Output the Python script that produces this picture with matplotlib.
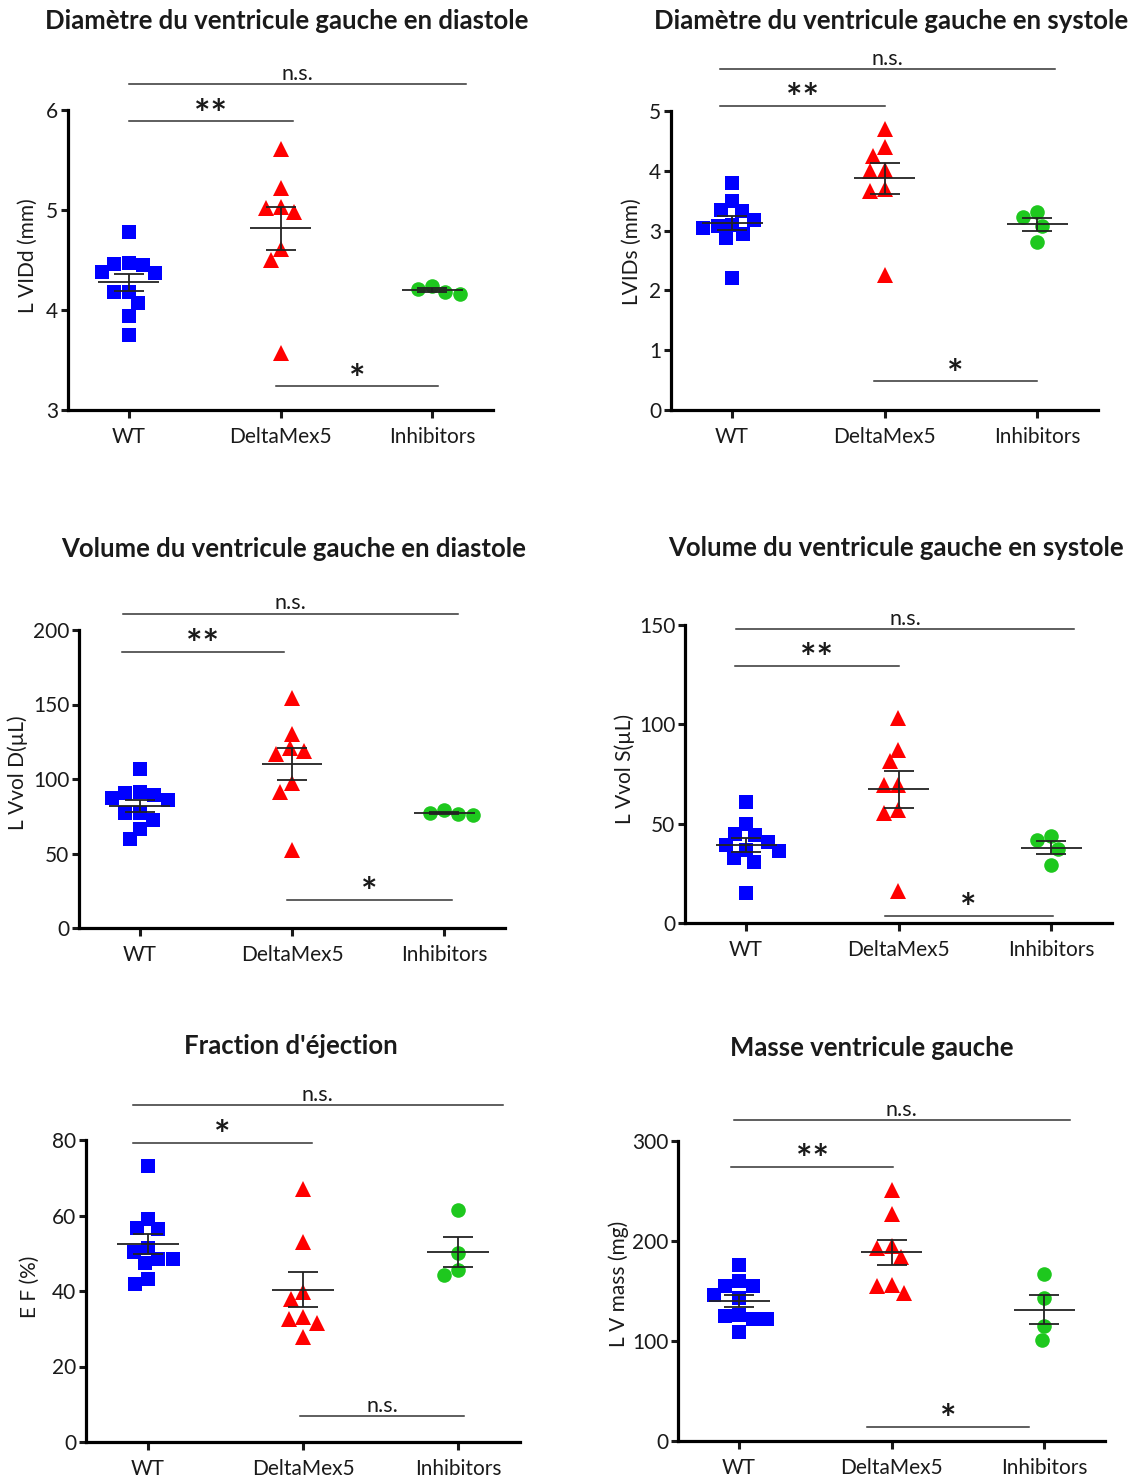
import numpy as np
import matplotlib
matplotlib.use('Agg')
import matplotlib.pyplot as plt

plt.rcParams['font.family'] = ['Lato', 'DejaVu Sans']
plt.rcParams['text.color'] = '#1a1a1a'
plt.rcParams['xtick.color'] = '#1a1a1a'
plt.rcParams['ytick.color'] = '#1a1a1a'

# ---------------- données ----------------
groups = ['WT', 'DeltaMex5', 'Inhibitors']

lvidd_wt = [4.78, 4.47, 4.46, 4.45, 4.38, 4.37, 4.18, 4.18, 4.07, 3.94, 3.75]
lvidd_dm = [5.61, 5.22, 5.03, 5.02, 4.98, 4.61, 4.50, 3.57]
lvidd_inh = [4.21, 4.16, 4.18, 4.24]

lvids_wt = [3.80, 3.50, 3.35, 3.32, 3.18, 3.10, 3.08, 3.05, 2.95, 2.88, 2.20]
lvids_dm = [4.70, 4.40, 4.25, 4.02, 4.00, 3.70, 3.66, 2.25]
lvids_inh = [3.31, 3.23, 3.08, 2.81]

volD_wt = [106.5, 91.0, 90.5, 89.5, 87.5, 86.0, 77.0, 77.0, 72.5, 66.5, 59.5]
volD_dm = [154.2, 130.3, 120.7, 119.1, 116.9, 97.2, 91.6, 52.5]
volD_inh = [77.5, 76.0, 76.6, 79.3]

volS_wt = [61.0, 50.0, 45.0, 44.3, 41.0, 39.5, 36.5, 36.0, 32.7, 30.5, 15.1]
volS_dm = [103.0, 87.1, 81.3, 69.5, 69.5, 57.0, 55.3, 15.9]
volS_inh = [43.6, 41.9, 37.2, 29.3]

ef_wt = [73.2, 59.2, 56.8, 56.5, 51.3, 50.4, 48.6, 48.6, 47.3, 43.3, 41.8]
ef_dm = [66.9, 53.0, 39.8, 37.8, 33.0, 32.7, 31.6, 27.9]
ef_inh = [61.5, 50.1, 44.2, 45.5]

mass_wt = [176, 160, 155, 155, 146, 142.7, 126, 125, 121.7, 121.7, 109.3]
mass_dm = [251, 226.7, 193.3, 195, 183.7, 156, 155, 148.3]
mass_inh = [167, 142.7, 115.3, 101]

# comparaisons : (x début, x fin, hauteur, texte)
sig_lvidd = [(0.0, 2.22, 6.26, 'n.s.'), (0.0, 1.08, 5.89, '**'), (0.97, 2.04, 3.24, '*')]
sig_lvids = [(-0.08, 2.12, 5.70, 'n.s.'), (-0.08, 1.0, 5.09, '**'), (0.93, 2.0, 0.48, '*')]
sig_volD = [(-0.11, 2.09, 211, 'n.s.'), (-0.12, 0.95, 185.4, '**'), (0.97, 2.05, 19, '*')]
sig_volS = [(-0.064, 2.15, 147.8, 'n.s.'), (-0.07, 1.0, 129.4, '**'), (0.91, 2.01, 3.7, '*')]
sig_ef = [(-0.10, 2.29, 89.3, 'n.s.'), (-0.10, 1.06, 79.3, '*'), (0.98, 2.04, 6.9, 'n.s.')]
sig_mass = [(-0.035, 2.17, 321, 'n.s.'), (-0.05, 1.01, 274.3, '**'), (0.84, 1.90, 14.3, '*')]

# ---------------- figure ----------------
W, H = 1134, 1480
fig = plt.figure(figsize=(W / 100, H / 100), dpi=100)

colors = ['#0000ff', '#ff0000', '#1ec81e']
markers = ['s', '^', 'o']
msizes = [10.0, 11.0, 10.5]

panels = [
    dict(title='Diamètre du ventricule gauche en diastole', ylabel='L VIDd (mm)',
         data=[lvidd_wt, lvidd_dm, lvidd_inh], ylim=(3, 6), yticks=[3, 4, 5, 6], sig=sig_lvidd,
         box=(68, 493, 110, 410), title_xy=(287, 21), ylab_xy=(28, 256)),
    dict(title='Diamètre du ventricule gauche en systole', ylabel='LVIDs (mm)',
         data=[lvids_wt, lvids_dm, lvids_inh], ylim=(0, 5), yticks=[0, 1, 2, 3, 4, 5], sig=sig_lvids,
         box=(671, 1098, 111, 410), title_xy=(891, 21), ylab_xy=(632, 252)),
    dict(title='Volume du ventricule gauche en diastole', ylabel='L Vvol D(µL)',
         data=[volD_wt, volD_dm, volD_inh], ylim=(0, 200), yticks=[0, 50, 100, 150, 200], sig=sig_volD,
         box=(79, 505, 630, 928), title_xy=(294, 549), ylab_xy=(18, 773)),
    dict(title='Volume du ventricule gauche en systole', ylabel='L Vvol S(µL)',
         data=[volS_wt, volS_dm, volS_inh], ylim=(0, 150), yticks=[0, 50, 100, 150], sig=sig_volS,
         box=(685, 1112, 625, 923), title_xy=(896, 548), ylab_xy=(625, 769)),
    dict(title="Fraction d'éjection", ylabel='E F (%)',
         data=[ef_wt, ef_dm, ef_inh], ylim=(0, 80), yticks=[0, 20, 40, 60, 80], sig=sig_ef,
         box=(86, 520, 1140, 1442), title_xy=(291, 1046), ylab_xy=(30, 1287)),
    dict(title='Masse ventricule gauche', ylabel='L V mass (mg)',
         data=[mass_wt, mass_dm, mass_inh], ylim=(0, 300), yticks=[0, 100, 200, 300], sig=sig_mass,
         box=(678, 1105, 1141, 1441), title_xy=(872, 1048), ylab_xy=(619, 1284)),
]


def swarm(ax, xc, vals, d_px):
    # disposition type "beeswarm" en pixels
    vals = np.asarray(vals, float)
    pts = ax.transData.transform(np.column_stack([np.full(len(vals), xc), vals]))
    x0, ypx = pts[0, 0], pts[:, 1]
    placed = []
    off = np.zeros(len(vals))
    for i in np.argsort(-vals):
        cands = [0.0]
        for xo, yo in placed:
            dy = ypx[i] - yo
            if abs(dy) < d_px:
                dx = np.sqrt(d_px ** 2 - dy ** 2)
                cands += [xo + dx, xo - dx]
        for c in sorted(cands, key=lambda v: (abs(v), v)):
            if all((c - xo) ** 2 + (ypx[i] - yo) ** 2 >= d_px ** 2 - 1e-6 for xo, yo in placed):
                off[i] = c
                break
        placed.append((off[i], ypx[i]))
    return ax.transData.inverted().transform(np.column_stack([x0 + off, ypx]))[:, 0]


for p in panels:
    l, r, t, b = p['box']
    ax = fig.add_axes([l / W, 1 - b / H, (r - l) / W, (b - t) / H])
    ax.set_xlim(-0.4, 2.4)
    ax.set_ylim(*p['ylim'])
    ax.set_yticks(p['yticks'])
    ax.set_xticks(range(3))
    ax.set_xticklabels(groups)
    for s in ['top', 'right']:
        ax.spines[s].set_visible(False)
    for s in ['left', 'bottom']:
        ax.spines[s].set_linewidth(2.3)
        ax.spines[s].set_color('black')
    ax.tick_params(axis='y', length=5, width=2.2, labelsize=15, pad=2)
    ax.tick_params(axis='x', length=6, width=2.2, labelsize=15, pad=6)

    for g, vals in enumerate(p['data']):
        xs = swarm(ax, g, vals, 14.5)
        ax.plot(xs, vals, linestyle='none', marker=markers[g], markersize=msizes[g],
                color=colors[g], markeredgewidth=0, zorder=3, clip_on=False)
        m = np.mean(vals)
        sem = np.std(vals, ddof=1) / np.sqrt(len(vals))
        ax.hlines(m, g - 0.2, g + 0.2, color='#222222', lw=1.3, zorder=4)
        ax.errorbar(g, m, yerr=sem, fmt='none', ecolor='#222222', elinewidth=1.3,
                    capsize=10.5, capthick=1.3, zorder=4)

    for x0, x1, y, txt in p['sig']:
        ax.plot([x0, x1], [y, y], color='#333333', lw=1.1, clip_on=False)
        if txt == 'n.s.':
            ax.annotate(txt, ((x0 + x1) / 2, y), xytext=(0, 3), textcoords='offset points',
                        ha='center', va='baseline', fontsize=15.5, annotation_clip=False)
        else:
            ax.annotate(txt, ((x0 + x1) / 2, y), xytext=(0, -4), textcoords='offset points',
                        ha='center', va='baseline', fontsize=28, fontweight='bold',
                        annotation_clip=False)

    fig.text(p['title_xy'][0] / W, 1 - p['title_xy'][1] / H, p['title'],
             ha='center', va='center', fontsize=18.5, fontweight='bold')
    fig.text(p['ylab_xy'][0] / W, 1 - p['ylab_xy'][1] / H, p['ylabel'],
             ha='center', va='center', rotation=90, fontsize=15)

fig.savefig('out.png', dpi=100, facecolor='white')
